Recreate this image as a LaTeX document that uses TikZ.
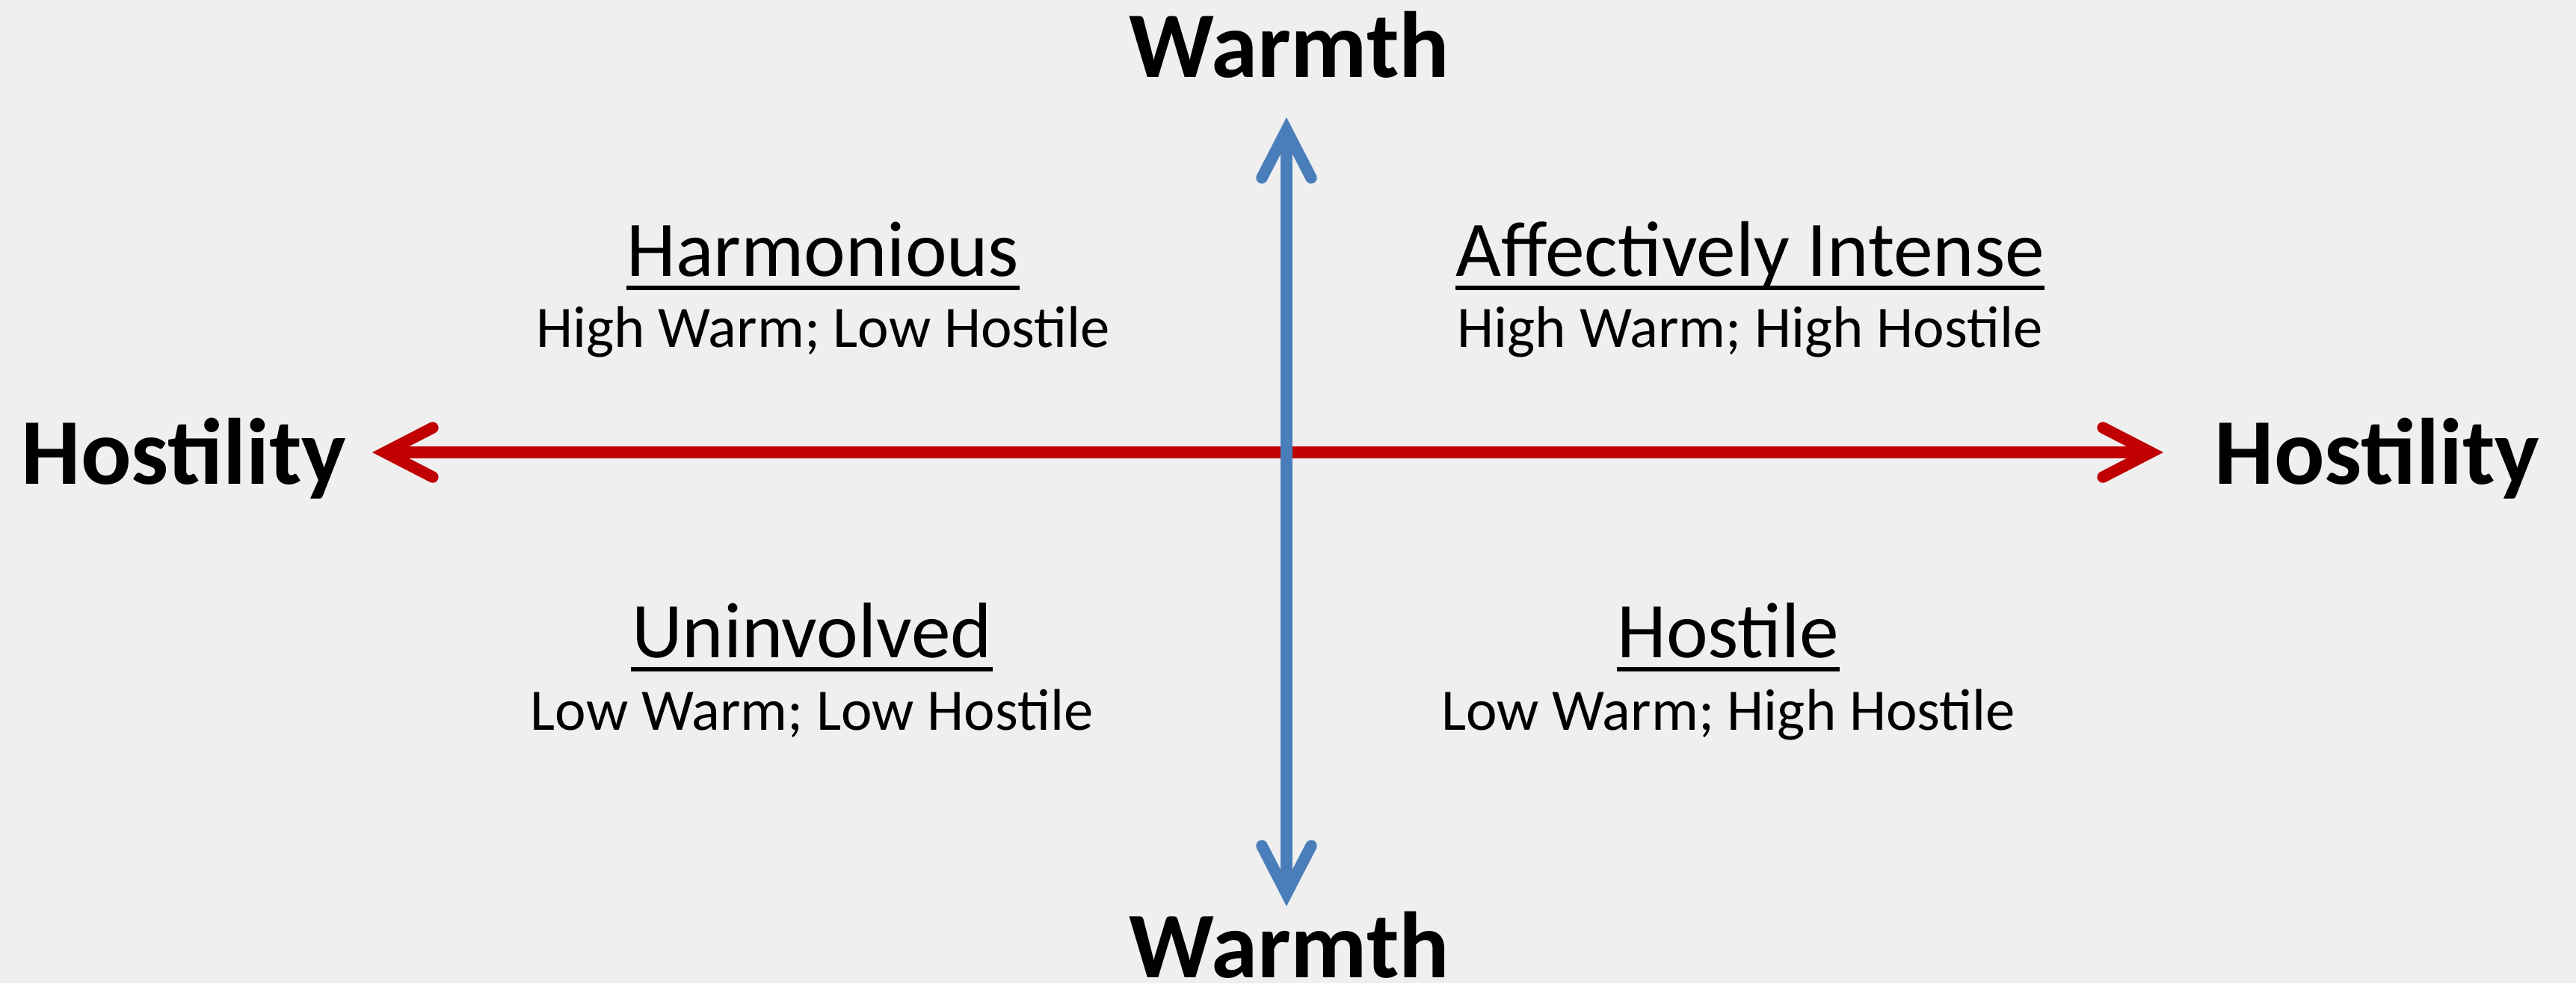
\documentclass[tikz,border=0pt]{standalone}
\usepackage{fontspec}
\setmainfont{Carlito}
\usetikzlibrary{arrows.meta}
\tikzset{
 axislabel/.style={anchor=base,font=\fontsize{35.8}{40}\selectfont\bfseries},
 quadname/.style={anchor=base,inner xsep=0pt,font=\fontsize{30}{36}\selectfont},
 quadnote/.style={anchor=base,font=\fontsize{22.4}{27}\selectfont},
 uline/.style={line width=1.6pt},
 axis/.style={line width=4.4pt,-{Straight Barb[length=0.64cm,width=0.66cm,line cap=round,line join=miter]}}
}
\newcommand{\underit}[1]{\draw [uline] ([yshift=-0.16cm]#1.base west) -- ([yshift=-0.16cm]#1.base east);}
\begin{document}
\begin{tikzpicture}
 \definecolor{papercolor}{HTML}{EFEFEF}
 \definecolor{warmcolor}{HTML}{4A7EBB}
 \definecolor{hostcolor}{HTML}{C00000}
 \fill [papercolor] (0,0) rectangle (34.46,13.15);
 \useasboundingbox (0,0) rectangle (34.46,13.15);
 % ends of the two axes
 \coordinate (wtop) at (17.21,11.58);
 \coordinate (wbot) at (17.21,1.03);
 \coordinate (hleft) at (4.98,7.10);
 \coordinate (hright) at (28.94,7.10);
 \coordinate (origin) at (17.21,7.10);
 \draw [axis,hostcolor] (origin) -- (hleft);
 \draw [axis,hostcolor] (origin) -- (hright);
 \draw [axis,warmcolor] (origin) -- (wtop);
 \draw [axis,warmcolor] (origin) -- (wbot);
 \node [axislabel] (warmup) at (17.25,12.12) {Warmth};
 \node [axislabel,inner sep=0pt] (warmdown) at (17.25,0.08) {Warmth};
 \node [axislabel] (hostleft) at (2.46,6.68) {Hostility};
 \node [axislabel] (hostright) at (31.80,6.68) {Hostility};
 % the four quadrants
 \node [quadname] (harm) at (11.01,9.46) {Harmonious};
 \node [quadnote] (harmnote) at (11.01,8.51) {High Warm; Low Hostile};
 \node [quadname] (intense) at (23.41,9.46) {Affectively Intense};
 \node [quadnote] (intensenote) at (23.41,8.51) {High Warm; High Hostile};
 \node [quadname] (uninv) at (10.86,4.36) {Uninvolved};
 \node [quadnote] (uninvnote) at (10.86,3.39) {Low Warm; Low Hostile};
 \node [quadname] (host) at (23.12,4.36) {Hostile};
 \node [quadnote] (hostnote) at (23.12,3.39) {Low Warm; High Hostile};
 \underit{harm}
 \underit{intense}
 \underit{uninv}
 \underit{host}
\end{tikzpicture}
\end{document}
